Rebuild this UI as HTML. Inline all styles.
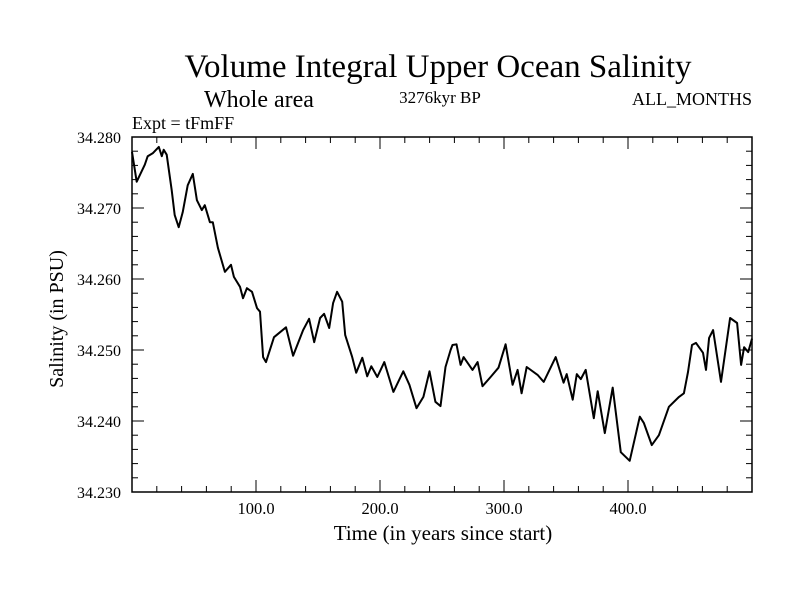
<!DOCTYPE html>
<html><head><meta charset="utf-8"><style>
body{margin:0;background:#fff}
svg{display:block;font-family:"Liberation Serif",serif}
</style></head><body>
<svg id="c" width="800" height="600">
<text x="438" y="77" font-size="33" text-anchor="middle">Volume Integral Upper Ocean Salinity</text>
<text x="204" y="107" font-size="24">Whole area</text>
<text x="132" y="129" font-size="18">Expt = tFmFF</text>
<text x="440" y="103" font-size="17" text-anchor="middle">3276kyr BP</text>
<text x="752" y="105" font-size="18" text-anchor="end">ALL_MONTHS</text>
<text x="443" y="540" font-size="21" text-anchor="middle">Time (in years since start)</text>
<text transform="translate(63,319) rotate(-90)" font-size="20" text-anchor="middle">Salinity (in PSU)</text>
<g id="ax"></g>
</svg>
<script>
const years=[0,3.8,10.3,12.7,16.7,21.6,24.0,25.6,28.0,32.0,34.4,37.7,40.9,44.9,49.0,52.3,56.3,58.7,62.8,65.2,69.3,74.9,79.8,82.2,87.1,89.5,92.7,96.8,100.8,103.2,105.7,108.1,114.5,124.2,129.9,138.0,142.8,146.9,151.7,154.9,159.0,162.2,165.4,169.5,171.9,177.6,180.8,185.7,189.7,193.0,197.8,203.5,210.8,218.8,223.7,229.4,235.0,239.9,244.7,248.8,252.8,256.9,258.5,261.7,265.0,267.4,274.6,278.7,282.7,289.2,295.6,301.3,306.9,311.0,314.2,318.3,327.1,332.0,341.7,348.1,350.6,355.4,358.7,361.9,365.9,372.4,375.6,381.3,387.7,394.2,401.4,409.5,412.8,419.2,424.9,433.0,441.1,445.1,448.4,451.6,454.8,460.5,462.9,465.4,468.6,475.0,482.3,488.0,491.2,493.6,496.9,500.0];
const salinity=[34.2779,34.2737,34.2761,34.2773,34.2777,34.2786,34.2773,34.2782,34.2775,34.2725,34.2690,34.2673,34.2694,34.2732,34.2748,34.2711,34.2697,34.2704,34.2680,34.2680,34.2644,34.2610,34.2620,34.2603,34.2589,34.2573,34.2587,34.2582,34.2559,34.2554,34.2490,34.2483,34.2518,34.2532,34.2492,34.2528,34.2544,34.2511,34.2545,34.2551,34.2531,34.2566,34.2582,34.2568,34.2521,34.2490,34.2468,34.2489,34.2463,34.2477,34.2462,34.2483,34.2441,34.2470,34.2451,34.2418,34.2434,34.2470,34.2427,34.2421,34.2476,34.2500,34.2507,34.2508,34.2479,34.2490,34.2472,34.2483,34.2449,34.2462,34.2475,34.2508,34.2451,34.2472,34.2439,34.2476,34.2465,34.2455,34.2490,34.2454,34.2466,34.2430,34.2466,34.2459,34.2472,34.2404,34.2442,34.2383,34.2447,34.2356,34.2344,34.2406,34.2397,34.2366,34.2380,34.2420,34.2434,34.2439,34.2469,34.2507,34.2510,34.2496,34.2472,34.2517,34.2528,34.2455,34.2545,34.2538,34.2479,34.2504,34.2497,34.2516];
const xTicks=[100,200,300,400];
const xTickLabels=["100.0","200.0","300.0","400.0"];
const yTicks=[34.23,34.24,34.25,34.26,34.27,34.28];
const yTickLabels=["34.230","34.240","34.250","34.260","34.270","34.280"];
const L=132,R=752,T=137,B=492,X0=0,X1=500,Y0=34.23,Y1=34.28;
const sx=v=>L+(v-X0)/(X1-X0)*(R-L);
const sy=v=>B-(v-Y0)/(Y1-Y0)*(B-T);
const NS="http://www.w3.org/2000/svg",g=document.getElementById('ax');
function mk(t,a){const e=document.createElementNS(NS,t);for(const k in a)e.setAttribute(k,a[k]);g.appendChild(e);return e;}
const frame=mk('rect',{x:L,y:T,width:R-L,height:B-T,fill:'none',stroke:'#000','stroke-width':1.5});


for(let v=20;v<X1;v+=20){const x=sx(v),major=v%100===0,len=major?12:6;
 mk('line',{x1:x,y1:B,x2:x,y2:B-len,stroke:'#000'});mk('line',{x1:x,y1:T,x2:x,y2:T+len,stroke:'#000'});}
xTicks.forEach((v,i)=>{const t=mk('text',{x:sx(v),y:B+22,'font-size':16.5,'text-anchor':'middle'});t.textContent=xTickLabels[i];
 
 });
for(let k=0;k<=25;k++){const v=Y0+k*0.002,y=sy(v),major=k%5===0,len=major?12:6;
 mk('line',{x1:L,y1:y,x2:L+len,y2:y,stroke:'#000'});mk('line',{x1:R,y1:y,x2:R-len,y2:y,stroke:'#000'});}
yTicks.forEach((v,i)=>{const t=mk('text',{x:L-11,y:sy(v)+6,'font-size':16,'text-anchor':'end'});t.textContent=yTickLabels[i];
 
 });
const p=mk('polyline',{points:years.map((y,i)=>sx(y).toFixed(1)+','+sy(salinity[i]).toFixed(1)).join(' '),fill:'none',stroke:'#000','stroke-width':2,'stroke-linejoin':'round'});


</script>
</body></html>
